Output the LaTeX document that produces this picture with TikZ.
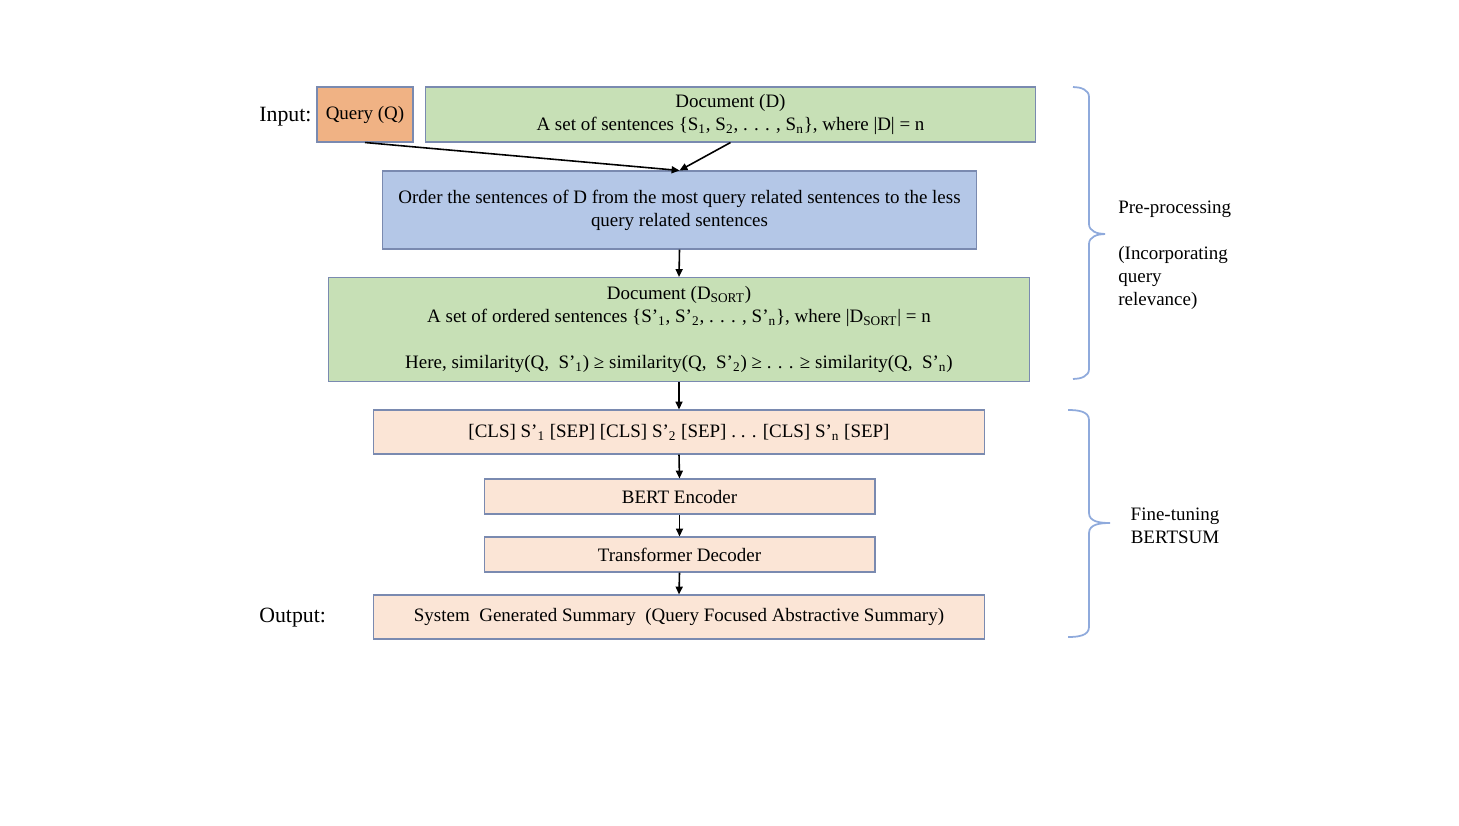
\documentclass[tikz,border=0pt]{standalone}
\usepackage{fontspec}
\setmainfont{Liberation Serif}
\usetikzlibrary{arrows.meta}

\definecolor{queryfill}{RGB}{240,178,132}
\definecolor{docfill}{RGB}{199,224,182}
\definecolor{orderfill}{RGB}{180,199,231}
\definecolor{bertfill}{RGB}{251,229,214}
\definecolor{boxline}{RGB}{122,138,176}
\definecolor{braceline}{RGB}{143,170,220}

\begin{document}
\begin{tikzpicture}[
        x=0.02cm, y=-0.02cm,
        every node/.style={font=\fontsize{10.8}{13}\selectfont},
        box/.style={draw=boxline, line width=0.6pt, inner sep=0pt, align=center},
        arrow/.style={-{Triangle[length=4.5pt,width=4pt]}, line width=0.9pt},
        groupbrace/.style={draw=braceline, line width=1pt},
        sidetext/.style={inner sep=0pt},
        iolabel/.style={sidetext, font=\fontsize{12.4}{15}\selectfont}
        ]
        \useasboundingbox (0,0) rectangle (1459,825);
        % input side
        \node[iolabel, anchor=west] (inlabel) at (259,117) {Input:};
        \node[box, fill=queryfill, minimum width=1.92cm, minimum height=1.1cm] (query) at (365,114.5) {Query (Q)};
        \node[box, fill=docfill, minimum width=12.22cm, minimum height=1.1cm] (doc) at (730.5,114.5)
            {Document (D)\\A set of sentences \{S\textsubscript{1}, S\textsubscript{2}, . . . , S\textsubscript{n}\}, where |D| = n};
        % pre-processing
        \node[box, fill=orderfill, minimum width=11.9cm, minimum height=1.56cm] (order) at (679.5,210)
            {Order the sentences of D from the most query related sentences to the less\\query related sentences};
        \node[box, fill=docfill, minimum width=14.04cm, minimum height=2.08cm] (dsort) at (679,329.5)
            {Document (D\textsubscript{SORT})\\
             A set of ordered sentences \{S’\textsubscript{1}, S’\textsubscript{2}, . . . , S’\textsubscript{n}\}, where |D\textsubscript{SORT}| = n\\[13pt]
             Here, similarity(Q,\ \ S’\textsubscript{1}) ≥ similarity(Q,\ \ S’\textsubscript{2}) ≥ . . . ≥ similarity(Q,\ \ S’\textsubscript{n})};
        % fine-tuning
        \node[box, fill=bertfill, minimum width=12.24cm, minimum height=0.88cm] (cls) at (679,432)
            {[CLS] S’\textsubscript{1} [SEP] [CLS] S’\textsubscript{2} [SEP] . . . [CLS] S’\textsubscript{n} [SEP]};
        \node[box, fill=bertfill, minimum width=7.82cm, minimum height=0.7cm] (bert) at (679.5,496.5) {BERT Encoder};
        \node[box, fill=bertfill, minimum width=7.82cm, minimum height=0.7cm] (dec) at (679.5,554.5) {Transformer Decoder};
        \node[box, fill=bertfill, minimum width=12.24cm, minimum height=0.88cm] (summ) at (679,617)
            {System\ \ Generated Summary\ \ (Query Focused Abstractive Summary)};
        \node[iolabel, anchor=west] (outlabel) at (259,618) {Output:};

        \draw[arrow] (query.south) -- (order.north);
        \draw[arrow] (doc.south) -- (order.north);
        \foreach \a/\b in {order/dsort, dsort/cls, cls/bert, bert/dec, dec/summ} {
            \draw[arrow] (\a.south) -- (\b.north);
        }

        % braces on the right
        \draw[groupbrace] (1073,87) to[out=0,in=90] (1089,97) -- (1089,224)
            to[out=-90,in=180] (1105,234) to[out=180,in=90] (1089,244) -- (1089,369)
            to[out=-90,in=0] (1073,379);
        \draw[groupbrace] (1068,410) to[out=0,in=90] (1089,420) -- (1089,513)
            to[out=-90,in=180] (1110,523) to[out=180,in=90] (1089,533) -- (1089,627)
            to[out=-90,in=0] (1068,637);
        \node[sidetext, anchor=west] (prelabel) at (1118,209) {Pre-processing};
        \node[sidetext, anchor=west, align=left] (relevance) at (1118,278) {(Incorporating\\query\\relevance)};
        \node[sidetext, align=center] (ftlabel) at (1175,525.5) {Fine-tuning\\BERTSUM};
\end{tikzpicture}
\end{document}
